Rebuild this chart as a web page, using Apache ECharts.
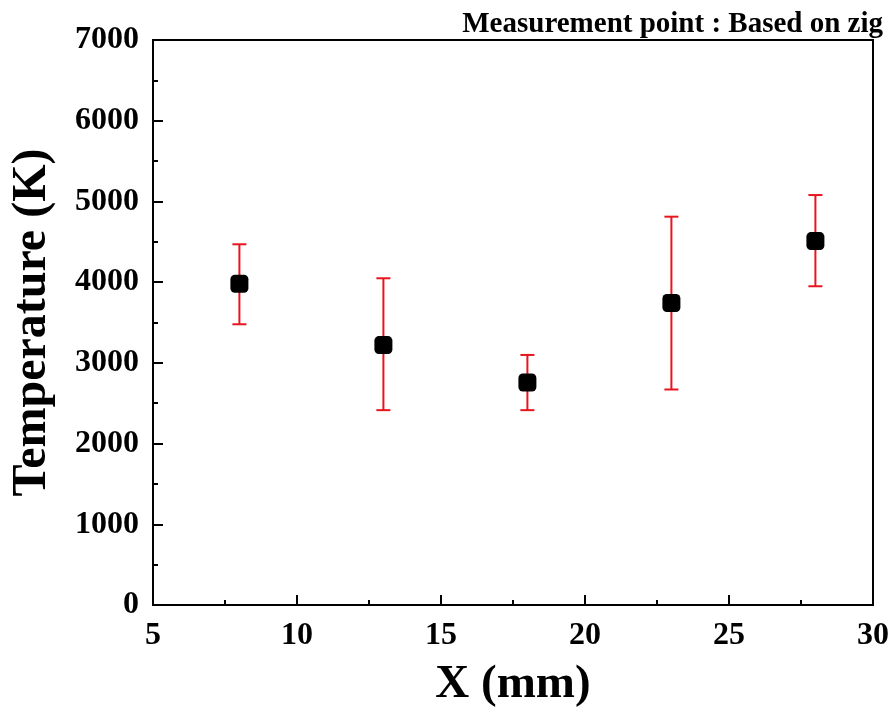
<!DOCTYPE html>
<html><head><meta charset="utf-8">
<script src="https://cdn.jsdelivr.net/npm/echarts@6/dist/echarts.min.js"></script>
<style>html,body{margin:0;padding:0;background:#fff}#c{width:896px;height:709px}</style>
</head><body><div id="c"></div>
<script>
const xValues = [8, 13, 18, 23, 28];
const temperature = [3980, 3220, 2757, 3742, 4509];
const errLow = [3478, 2414, 2414, 2670, 3949];
const errHigh = [4469, 4048, 3098, 4811, 5079];
const xTicks = [5, 10, 15, 20, 25, 30];
const yTicks = [0, 1000, 2000, 3000, 4000, 5000, 6000, 7000];

const FONT = '"Liberation Serif", "Times New Roman", serif';
const chart = echarts.init(document.getElementById('c'));
const pts = xValues.map((x, i) => [x, temperature[i]]);
const errs = xValues.map((x, i) => [x, errLow[i], errHigh[i]]);

chart.setOption({
  animation: false,
  backgroundColor: '#fff',
  title: {
    text: 'Measurement point : Based on zig',
    right: 8, top: 5,
    textStyle: {fontFamily: FONT, fontWeight: 'bold', fontSize: 29, color: '#000'}
  },
  grid: {left: 153, right: 23, top: 40, bottom: 104, show: true, borderColor: '#000', borderWidth: 2, backgroundColor: 'transparent', containLabel: false, outerBoundsMode: 'none'},
  xAxis: {
    type: 'value', min: xTicks[0], max: xTicks[xTicks.length - 1], interval: 5,
    name: 'X (mm)', nameLocation: 'middle', nameGap: 56,
    nameTextStyle: {fontFamily: FONT, fontWeight: 'bold', fontSize: 47, color: '#000'},
    axisLine: {show: true, lineStyle: {color: '#000', width: 2}},
    axisTick: {show: true, inside: true, length: 10, lineStyle: {color: '#000', width: 2}},
    minorTick: {show: true, splitNumber: 2, length: 5, lineStyle: {color: '#000', width: 2}},
    splitLine: {show: false},
    axisLabel: {fontFamily: FONT, fontWeight: 'bold', fontSize: 32, color: '#000', margin: 15, formatter: v => String(v)}
  },
  yAxis: {
    type: 'value', min: yTicks[0], max: yTicks[yTicks.length - 1], interval: 1000,
    name: 'Temperature (K)', nameLocation: 'middle', nameGap: 96,
    nameTextStyle: {fontFamily: FONT, fontWeight: 'bold', fontSize: 48, color: '#000'},
    axisLine: {show: true, lineStyle: {color: '#000', width: 2}},
    axisTick: {show: true, inside: true, length: 10, lineStyle: {color: '#000', width: 2}},
    minorTick: {show: true, splitNumber: 2, length: 5, lineStyle: {color: '#000', width: 2}},
    splitLine: {show: false},
    axisLabel: {fontFamily: FONT, fontWeight: 'bold', fontSize: 32, color: '#000', margin: 14, formatter: v => String(v)}
  },
  series: [
    {
      type: 'custom',
      data: errs,
      z: 2,
      renderItem: function (params, api) {
        const x = api.value(0);
        const lo = api.coord([x, api.value(1)]);
        const hi = api.coord([x, api.value(2)]);
        const w = 7;
        const st = {stroke: '#e8141e', lineWidth: 2};
        return {
          type: 'group',
          children: [
            {type: 'line', shape: {x1: lo[0], y1: lo[1], x2: hi[0], y2: hi[1]}, style: st},
            {type: 'line', shape: {x1: hi[0] - w, y1: hi[1], x2: hi[0] + w, y2: hi[1]}, style: st},
            {type: 'line', shape: {x1: lo[0] - w, y1: lo[1], x2: lo[0] + w, y2: lo[1]}, style: st}
          ]
        };
      }
    },
    {
      type: 'scatter',
      data: pts,
      z: 3,
      symbol: 'roundRect',
      symbolSize: 18,
      itemStyle: {color: '#000', opacity: 1}
    }
  ]
});
</script></body></html>
